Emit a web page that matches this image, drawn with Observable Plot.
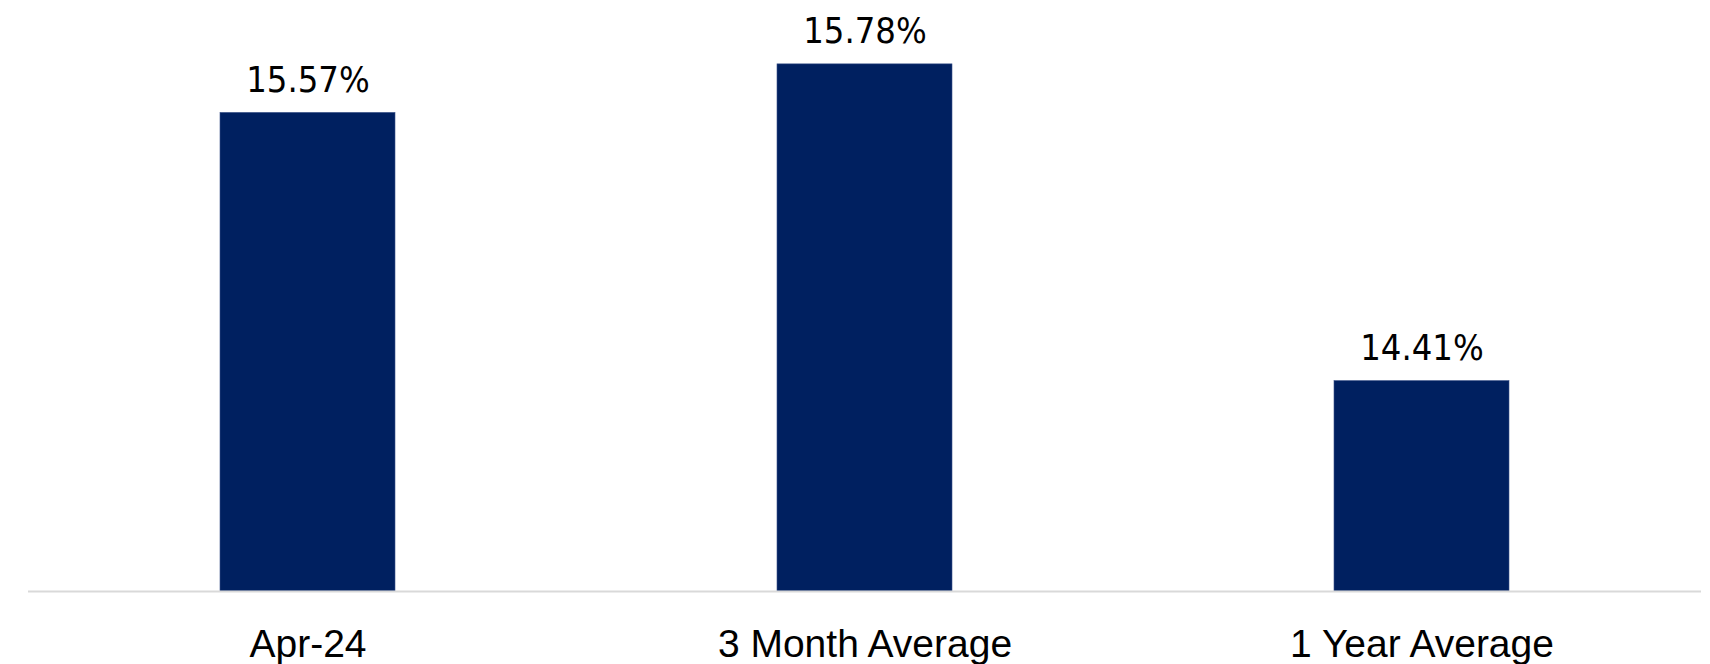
<!DOCTYPE html>
<html>
<head>
<meta charset="utf-8">
<script src="https://cdn.jsdelivr.net/npm/d3@7"></script>
<script src="https://cdn.jsdelivr.net/npm/@observablehq/plot@0.6"></script>
<style>
  html, body { margin: 0; padding: 0; background: #ffffff; overflow: hidden; }
  #chart svg { display: block; }
</style>
</head>
<body>
<div id="chart"></div>
<script>
const categories = ["Apr-24", "3 Month Average", "1 Year Average"];
const values = [15.57, 15.78, 14.41];
const valueLabels = ["15.57%", "15.78%", "14.41%"];
const yBase = 13.5;
const yTop = 16;

const data = categories.map((c, i) => ({category: c, value: values[i], label: valueLabels[i]}));

const chart = Plot.plot({
  width: 1710,
  height: 664,
  marginTop: 13,
  marginBottom: 73,
  marginLeft: 28,
  marginRight: 9,
  style: {background: "#ffffff", color: "#000000"},
  x: {
    domain: categories,
    paddingInner: 0.686,
    paddingOuter: 0.343,
    label: null,
    tickSize: 0,
    tickPadding: 38
  },
  y: {domain: [yBase, yTop], axis: null},
  marks: [
    Plot.barY(data, {x: "category", y1: () => yBase, y2: "value", fill: "#002060", stroke: "#3a5289", strokeWidth: 0.6}),
    Plot.ruleY([yBase], {stroke: "#d9d9d9", strokeWidth: 2}),
    Plot.text(data, {
      x: "category", y: "value", text: "label",
      lineAnchor: "bottom", dy: -21,
      fontSize: 36, fill: "#000000",
      fontFamily: "'Liberation Sans Narrow', 'Arial Narrow', 'DejaVu Sans Condensed', sans-serif"
    }),
    Plot.axisX({
      tickSize: 0, tickPadding: 38, fontSize: 39, label: null,
      fontFamily: "'Liberation Sans', Arial, sans-serif", fill: "#000000"
    })
  ]
});
document.getElementById("chart").appendChild(chart);
</script>
</body>
</html>
